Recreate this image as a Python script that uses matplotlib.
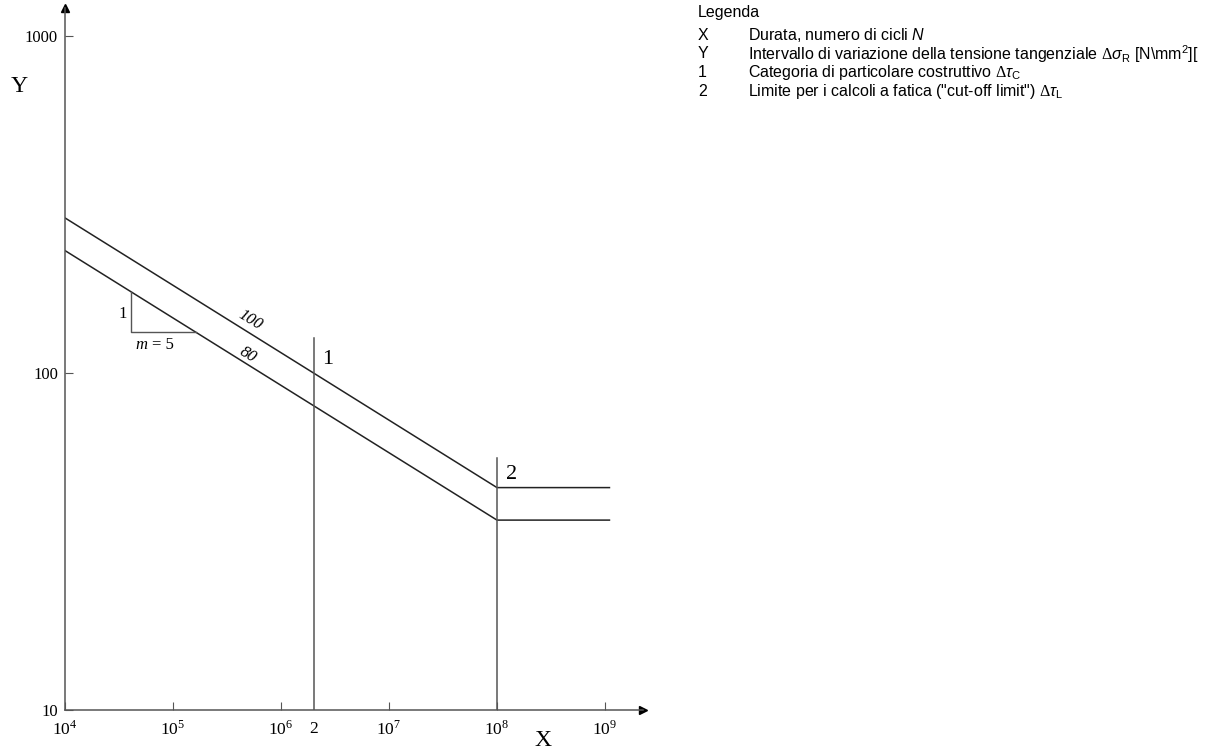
import matplotlib
matplotlib.use("Agg")
import matplotlib.pyplot as plt
from matplotlib.ticker import NullFormatter, FixedLocator

# --- Dati ---
N_punti = [1e4, 2e6, 1e8, 1.1e9]
cat_100 = [288.5, 100.0, 45.7, 45.7]
cat_80 = [230.8, 80.0, 36.6, 36.6]

# linee verticali: (N, valore superiore)
verticali_N = [2e6, 1e8]
verticali_top = [127.0, 56.0]

# triangolo della pendenza m = 5
tri_N = [4.08e4, 4.08e4, 1.63e5]
tri_val = [174.0, 132.0, 132.0]

x_ticks = [1e4, 1e5, 1e6, 1e7, 1e8, 1e9]
x_labels = [r"$10^{4}$", r"$10^{5}$", r"$10^{6}$", r"$10^{7}$", r"$10^{8}$", r"$10^{9}$"]
y_ticks = [10, 100, 1000]
y_labels = ["10", "100", "1000"]

legenda_sigle = ["X", "Y", "1", "2"]
legenda_testi = [
    r"Durata, numero di cicli $N$",
    r"Intervallo di variazione della tensione tangenziale $\Delta\sigma_{\mathsf{R}}$ [N\mm$^{\mathsf{2}}$][",
    r"Categoria di particolare costruttivo $\Delta\tau_{\mathsf{C}}$",
    r'Limite per i calcoli a fatica ("cut-off limit") $\Delta\tau_{\mathsf{L}}$',
]

plt.rcParams["mathtext.fontset"] = "custom"
plt.rcParams["mathtext.rm"] = "Liberation Serif"
plt.rcParams["mathtext.it"] = "Liberation Sans:italic"
plt.rcParams["mathtext.sf"] = "Liberation Sans"
SERIF = "Liberation Serif"
SANS = "Liberation Sans"
LINEA = "#222222"
ASSE = "#555555"

fig = plt.figure(figsize=(12.22, 7.49), dpi=100)
ax = fig.add_axes([65 / 1222, 39 / 749, 578 / 1222, 702 / 749])
ax.set_xscale("log")
ax.set_yscale("log")
ax.set_xlim(1e4, 10 ** 9.352)
ax.set_ylim(10, 10 ** 3.083)

ax.plot(N_punti, cat_100, color=LINEA, lw=1.1)
ax.plot(N_punti, cat_80, color=LINEA, lw=1.1)
for n, top in zip(verticali_N, verticali_top):
    ax.plot([n, n], [10, top], color=ASSE, lw=1.1)
ax.plot(tri_N, tri_val, color=ASSE, lw=1.0)

# assi con frecce
for s in ["top", "right"]:
    ax.spines[s].set_visible(False)
for s in ["left", "bottom"]:
    ax.spines[s].set_color(ASSE)
    ax.spines[s].set_linewidth(1.1)
ax.plot(1, 0, ">", color="black", ms=6, transform=ax.transAxes, clip_on=False)
ax.plot(0, 1, "^", color="black", ms=6, transform=ax.transAxes, clip_on=False)

ax.xaxis.set_major_locator(FixedLocator(x_ticks))
ax.set_xticklabels(x_labels, fontsize=12.5, family=SERIF)
ax.set_xticks([2e6], ["2"], minor=True, fontsize=12.5, family=SERIF)
ax.tick_params(axis="x", which="major", direction="in", length=6, color=ASSE, pad=7)
ax.tick_params(axis="x", which="minor", length=0, pad=8)

ax.yaxis.set_major_locator(FixedLocator(y_ticks))
ax.set_yticklabels(y_labels, fontsize=12, family=SERIF)
ax.yaxis.set_minor_formatter(NullFormatter())
ax.yaxis.set_minor_locator(FixedLocator([]))
ax.tick_params(axis="y", which="major", direction="in", length=6, color=ASSE, pad=5)

# etichette sul grafico
fig.text(19 / 1222, 1 - 86 / 749, "Y", fontsize=17, family=SERIF, ha="center", va="center")
fig.text(543 / 1222, 1 - 740 / 749, "X", fontsize=17, family=SERIF, ha="center", va="center")
ax.text(3.7e4, 150, "1", fontsize=12, family=SERIF, ha="right", va="center")
ax.text(4.5e4, 128, "m", fontsize=12, family=SERIF, style="italic", ha="left", va="top")
ax.text(6.4e4, 128, "= 5", fontsize=12, family=SERIF, ha="left", va="top")
ax.text(5.24e5, 143.6, "100", fontsize=12, family=SERIF, style="italic",
        rotation=-31, ha="center", va="center", rotation_mode="anchor")
ax.text(4.9e5, 113, "80", fontsize=12, family=SERIF, style="italic",
        rotation=-31, ha="center", va="center", rotation_mode="anchor")
ax.text(2.4e6, 110, "1", fontsize=16, family=SERIF, ha="left", va="center")
ax.text(1.2e8, 50, "2", fontsize=16, family=SERIF, ha="left", va="center")

# legenda
fig.text(698 / 1222, 1 - 13 / 749, "Legenda", fontsize=11.5, family=SANS, va="center")
for i, (sigla, testo) in enumerate(zip(legenda_sigle, legenda_testi)):
    y = 1 - (35 + i * 18.7) / 749
    fig.text(698 / 1222, y, sigla, fontsize=11.5, family=SANS, va="center")
    fig.text(748 / 1222, y, testo, fontsize=11.5, family=SANS, va="center")

fig.savefig("out.png", dpi=100)
